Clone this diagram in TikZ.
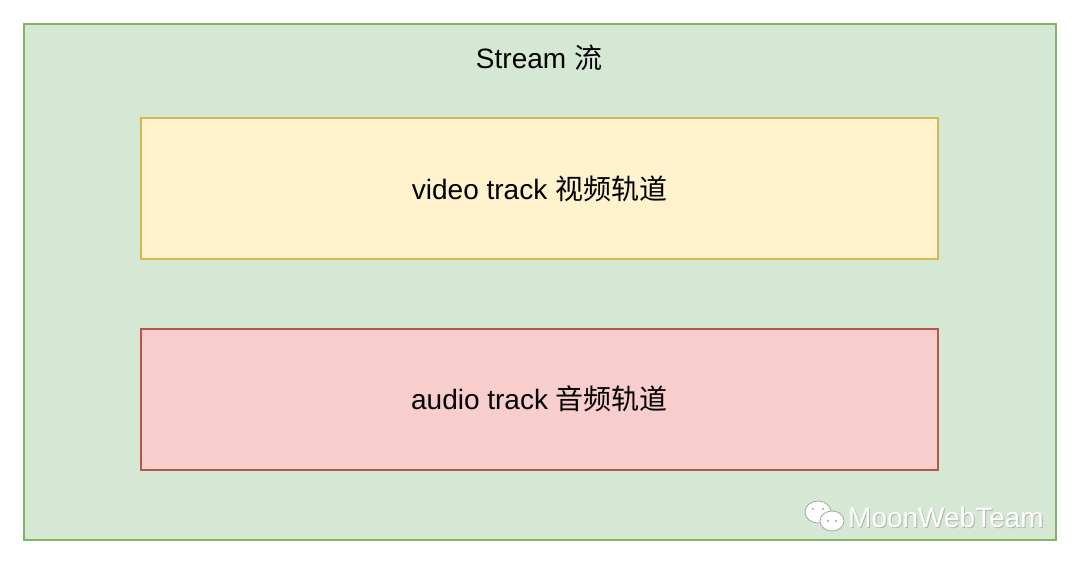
\documentclass[tikz,border=0pt]{standalone}
\usepackage{fontspec}
\setmainfont{Liberation Sans}
\newfontfamily\cjk{Noto Sans CJK SC}
\definecolor{greenfill}{HTML}{D5E8D4}
\definecolor{greenline}{HTML}{82B366}
\definecolor{yellowfill}{HTML}{FFF2CC}
\definecolor{yellowline}{HTML}{D6B656}
\definecolor{redfill}{HTML}{F8CECC}
\definecolor{redline}{HTML}{B85450}
\begin{document}
\begin{tikzpicture}[x=1pt,y=-1pt,
  label text/.style={font=\fontsize{28}{33}\selectfont, inner sep=0pt},
  track/.style={draw, line width=2pt, minimum width=797pt, minimum height=141pt, label text}]
  \useasboundingbox (0,0) rectangle (1080,565);
  % stream box
  \draw [fill=greenfill, draw=greenline, line width=2pt] (24,24) rectangle (1056,540);
  \node [label text] (stream) at (539,58) {Stream {\cjk 流}};
  % tracks
  \node [track, fill=yellowfill, draw=yellowline] (video) at (539.5,188.5) {video track {\cjk 视频轨道}};
  \node [track, fill=redfill, draw=redline] (audio) at (539.5,399) {audio track {\cjk 音频轨道}};
  % watermark
  \draw [fill=white, draw=gray!70, line width=0.8pt] (818,512) ellipse (13 and 11);
  \draw [fill=white, draw=gray!70, line width=0.8pt] (832,521) ellipse (12 and 10);
  \fill [gray!70] (813,509) circle (1.2) (823,509) circle (1.2) (828,521) circle (1.1) (836,521) circle (1.1);
  \node [label text, text=gray!60, anchor=west] at (849,518.5) {MoonWebTeam};
  \node [label text, text=white, anchor=west] (mark) at (848,517) {MoonWebTeam};
\end{tikzpicture}
\end{document}
